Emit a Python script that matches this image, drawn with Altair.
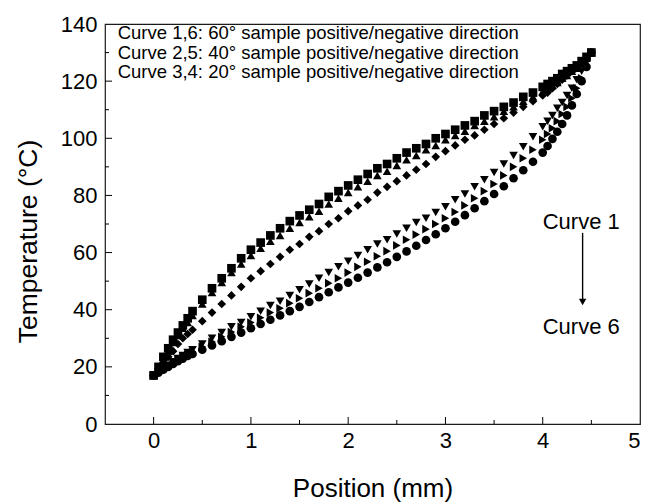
import altair as alt
import pandas as pd

# Shared position grid (mm)
position = [0, 0.05, 0.1, 0.15, 0.2, 0.25, 0.3, 0.35, 0.4,
            0.5, 0.6, 0.7, 0.8, 0.9, 1.0, 1.1, 1.2, 1.3, 1.4, 1.5,
            1.6, 1.7, 1.8, 1.9, 2.0, 2.1, 2.2, 2.3, 2.4, 2.5,
            2.6, 2.7, 2.8, 2.9, 3.0, 3.1, 3.2, 3.3, 3.4, 3.5,
            3.6, 3.7, 3.8, 3.9, 4.0, 4.05, 4.1, 4.15, 4.2, 4.25,
            4.3, 4.35, 4.4, 4.45, 4.5]

# Temperatures (deg C)
curve1 = [17, 20, 23.5, 26.5, 29.5, 32, 34.5, 37, 39.5,
          43.5, 47.5, 51, 54.5, 58, 61, 63.5, 66, 68.5, 71, 73,
          75, 77, 79.5, 81.5, 83.5, 85.5, 87.5, 89.5, 91, 93,
          95, 96.5, 98, 100, 101.5, 103, 104.5, 106, 108, 109.5,
          111, 112.5, 114.5, 116, 118, 119, 120, 121, 122.5, 123.5,
          124.5, 125.5, 127, 128.5, 130]
curve2 = [17, 19.5, 22.5, 25.5, 28.5, 31, 33.5, 35.5, 38,
          42, 46, 49.5, 53, 56, 59, 61.5, 64, 66, 68.5, 70.5,
          72.5, 74.5, 77, 79, 81, 83, 85, 87, 88.5, 90.5,
          92.5, 94, 96, 97.5, 99.5, 101, 102.5, 104.5, 106, 107.5,
          109.5, 111, 113, 114.5, 116.5, 117.5, 118.5, 119.5, 121, 122,
          123.5, 124.5, 126, 128, 130]
curve3 = [17, 19, 21.5, 23.5, 25.5, 28, 30, 31.5, 33,
          36, 39, 42, 45, 48, 51, 53.5, 56, 58.5, 61, 63,
          65.5, 67.5, 70, 72, 74.5, 76.5, 78.5, 81, 83, 85,
          87, 89, 91, 93.5, 95.5, 97.5, 99.5, 101, 103, 105,
          107, 109, 111, 113, 115, 116, 117.5, 119, 120.5, 122,
          123.5, 125, 126.5, 128, 130]
curve4 = [17, 18.2, 19.4, 20.6, 21.8, 22.9, 24, 25, 26,
          28, 30, 32, 34, 35.5, 37.5, 39.5, 41.5, 43, 45, 47,
          49, 51, 53, 55, 57, 59, 61, 63, 64.5, 66.5,
          68.5, 70.5, 72, 74, 76, 78.5, 80.5, 83, 85.5, 88,
          91, 94, 97, 100.5, 104, 106, 108, 110.5, 112.5, 115,
          117.5, 120.5, 123.5, 126.5, 130]
curve5 = [17, 18, 19.1, 20.2, 21.3, 22.3, 23.3, 24.3, 25.2,
          27, 28.8, 30.5, 32.2, 34, 35.5, 37.2, 39, 40.5, 42.3, 44,
          45.8, 47.5, 49.3, 51, 53, 55, 56.8, 58.7, 60.5, 62.5,
          64.5, 66.3, 68.2, 70, 72, 74.2, 76.5, 79, 81.5, 84,
          87, 90, 93, 96, 99.5, 101.5, 103.5, 106, 108.5, 111,
          114, 117.5, 121, 125.5, 130]
curve6 = [17, 18, 19, 20, 21, 22, 22.9, 23.8, 24.5,
          26, 27.5, 29, 30.5, 32, 33.5, 35, 36.5, 38, 39.5, 41,
          42.7, 44.4, 46.1, 47.8, 49.5, 51.2, 53, 54.8, 56.6, 58.5,
          60.4, 62.4, 64.4, 66.4, 68.5, 70.8, 73.1, 75.5, 78, 80.5,
          83.2, 86, 88.8, 91.8, 95, 97.3, 99.8, 102.3, 105, 108,
          111.5, 115.5, 120, 125, 130]

curve_names = ["Curve 1", "Curve 2", "Curve 3", "Curve 4", "Curve 5", "Curve 6"]
curve_shapes = ["square", "triangle-up", "diamond", "triangle-down", "triangle-right", "circle"]

x_labels = [0, 1, 2, 3, 4, 5]
y_labels = [0, 20, 40, 60, 80, 100, 120, 140]
x_major = [0, 1, 2, 3, 4]
x_minor = [0.5, 1.5, 2.5, 3.5, 4.5]
y_major = [20, 40, 60, 80, 100, 120]
y_minor = [10, 30, 50, 70, 90, 110, 130]

legend_lines = [
    "Curve 1,6: 60\u00b0 sample positive/negative direction",
    "Curve 2,5: 40\u00b0 sample positive/negative direction",
    "Curve 3,4: 20\u00b0 sample positive/negative direction",
]
legend_x = [-0.37, -0.37, -0.37]
legend_y = [136.7, 129.9, 123.1]

note_text = ["Curve 1", "Curve 6"]
note_x = [4.0, 4.0]
note_y = [70.7, 34.0]
arrow_x = [4.41]
arrow_top = [66.9]
arrow_bottom = [43.5]
arrow_head = [42.7]

FONT = "Liberation Sans"
W, H = 535, 400

rows = []
for name, temps in zip(curve_names, [curve1, curve2, curve3, curve4, curve5, curve6]):
    for p, t in zip(position, temps):
        rows.append({"curve": name, "position": p, "temperature": t})
df = pd.DataFrame(rows)

x_scale = alt.Scale(domain=[-0.5, 5], nice=False, zero=False)
y_scale = alt.Scale(domain=[0, 140], nice=False, zero=False)

x_axis = alt.Axis(values=x_labels, format="d", ticks=False, domain=False, grid=False,
                  labelFontSize=22, labelFont=FONT, labelColor="black", labelPadding=6,
                  title="Position (mm)", titleFontSize=26, titleFont=FONT,
                  titleFontWeight="normal", titleColor="black",
                  titleX=W / 2, titleY=64, titleBaseline="middle", titleAlign="center")
y_axis = alt.Axis(values=y_labels, format="d", ticks=False, domain=False, grid=False,
                  labelFontSize=22, labelFont=FONT, labelColor="black", labelPadding=8,
                  title="Temperature (\u00b0C)", titleFontSize=26.5, titleFont=FONT,
                  titleFontWeight="normal", titleColor="black",
                  titleX=-77, titleY=217, titleAngle=270, titleBaseline="middle",
                  titleAlign="center")

points = alt.Chart(df).mark_point(filled=True, opacity=1, size=75, color="black").encode(
    x=alt.X("position:Q", scale=x_scale, axis=x_axis),
    y=alt.Y("temperature:Q", scale=y_scale, axis=y_axis),
    shape=alt.Shape("curve:N", scale=alt.Scale(domain=curve_names, range=curve_shapes), legend=None),
)

def xticks(vals, length):
    d = pd.DataFrame({"position": vals})
    return alt.Chart(d).mark_rule(color="black", strokeWidth=1).encode(
        x=alt.X("position:Q", scale=x_scale), y=alt.value(H), y2=alt.value(H - length))

def yticks(vals, length):
    d = pd.DataFrame({"temperature": vals})
    return alt.Chart(d).mark_rule(color="black", strokeWidth=1).encode(
        y=alt.Y("temperature:Q", scale=y_scale), x=alt.value(0), x2=alt.value(length))

legend_df = pd.DataFrame({"position": legend_x, "temperature": legend_y, "label": legend_lines})
legend_text = alt.Chart(legend_df).mark_text(align="left", baseline="middle", fontSize=18.5,
                                             font=FONT, color="black").encode(
    x=alt.X("position:Q", scale=x_scale), y=alt.Y("temperature:Q", scale=y_scale), text="label:N")

note_df = pd.DataFrame({"position": note_x, "temperature": note_y, "label": note_text})
notes = alt.Chart(note_df).mark_text(align="left", baseline="middle", fontSize=22,
                                     font=FONT, color="black").encode(
    x=alt.X("position:Q", scale=x_scale), y=alt.Y("temperature:Q", scale=y_scale), text="label:N")

arrow_df = pd.DataFrame({"position": arrow_x, "temperature": arrow_top, "bottom": arrow_bottom,
                         "head": arrow_head})
arrow_line = alt.Chart(arrow_df).mark_rule(color="black", strokeWidth=1.4).encode(
    x=alt.X("position:Q", scale=x_scale), y=alt.Y("temperature:Q", scale=y_scale), y2="bottom:Q")
arrow_tip = alt.Chart(arrow_df).mark_point(shape="triangle-down", filled=True, size=55,
                                           color="black", opacity=1).encode(
    x=alt.X("position:Q", scale=x_scale), y=alt.Y("head:Q", scale=y_scale))

chart = alt.layer(
    points,
    xticks(x_major, 7), xticks(x_minor, 4),
    yticks(y_major, 7), yticks(y_minor, 4),
    legend_text, notes, arrow_line, arrow_tip,
).properties(
    width=W, height=H,
    autosize=alt.AutoSizeParams(type="none"),
    padding={"left": 97, "top": 16, "right": 6, "bottom": 78},
).configure_view(stroke="#1a1a1a", strokeWidth=1.2)

chart.save("out.html", embed_options={"renderer": "svg", "actions": False})
